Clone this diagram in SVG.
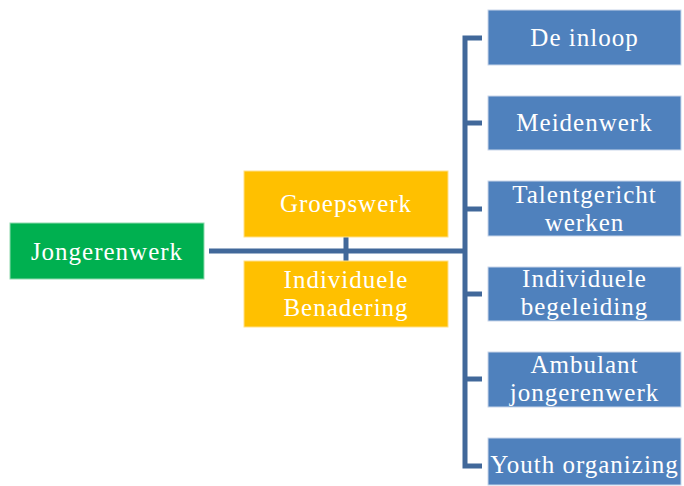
<svg xmlns="http://www.w3.org/2000/svg" width="684" height="486" viewBox="0 0 684 486">
<style>
.t{font-family:"Liberation Serif","Times New Roman",serif;font-size:25px;letter-spacing:1px;fill:#fff;text-anchor:middle}
.blue{fill:#4F81BD;stroke:#C9D6EA;stroke-width:1}
.gold{fill:#FFC000;stroke:#FFE08A;stroke-width:1}
.green{fill:#00B050;stroke:#8FD9AE;stroke-width:1}
.c{stroke:#41689A;stroke-width:5;fill:none}
</style>
<rect width="684" height="486" fill="#fff"/>
<g id="connectors">
<line class="c" x1="209" y1="251" x2="465" y2="251"/>
<line class="c" x1="346" y1="237" x2="346" y2="261"/>
<polyline class="c" points="482,38 465,38 465,466 482,466"/>
<line class="c" x1="465" y1="123" x2="482" y2="123"/>
<line class="c" x1="465" y1="209" x2="482" y2="209"/>
<line class="c" x1="465" y1="294" x2="482" y2="294"/>
<line class="c" x1="465" y1="379" x2="482" y2="379"/>
</g>
<g id="jongerenwerk"><rect class="green" x="10" y="223" width="194" height="56"/><text class="t" x="107" y="260">Jongerenwerk</text></g>
<g id="groepswerk"><rect class="gold" x="244" y="171" width="204" height="66"/><text class="t" x="346" y="212">Groepswerk</text></g>
<g id="individuele-benadering"><rect class="gold" x="244" y="261" width="204" height="66"/><text class="t" x="346" y="288">Individuele</text><text class="t" x="346" y="316">Benadering</text></g>
<g id="de-inloop"><rect class="blue" x="488" y="10" width="193" height="55"/><text class="t" x="584.5" y="46">De inloop</text></g>
<g id="meidenwerk"><rect class="blue" x="488" y="96" width="193" height="54"/><text class="t" x="584.5" y="131">Meidenwerk</text></g>
<g id="talentgericht"><rect class="blue" x="488" y="181" width="193" height="55"/><text class="t" x="584.5" y="202.5">Talentgericht</text><text class="t" x="584.5" y="230.5">werken</text></g>
<g id="individuele-begeleiding"><rect class="blue" x="488" y="267" width="193" height="54"/><text class="t" x="584.5" y="287">Individuele</text><text class="t" x="584.5" y="315">begeleiding</text></g>
<g id="ambulant"><rect class="blue" x="488" y="352" width="193" height="55"/><text class="t" x="584.5" y="373">Ambulant</text><text class="t" x="584.5" y="401">jongerenwerk</text></g>
<g id="youth-organizing"><rect class="blue" x="488" y="438" width="193" height="47"/><text class="t" x="584.5" y="473">Youth organizing</text></g>
</svg>
